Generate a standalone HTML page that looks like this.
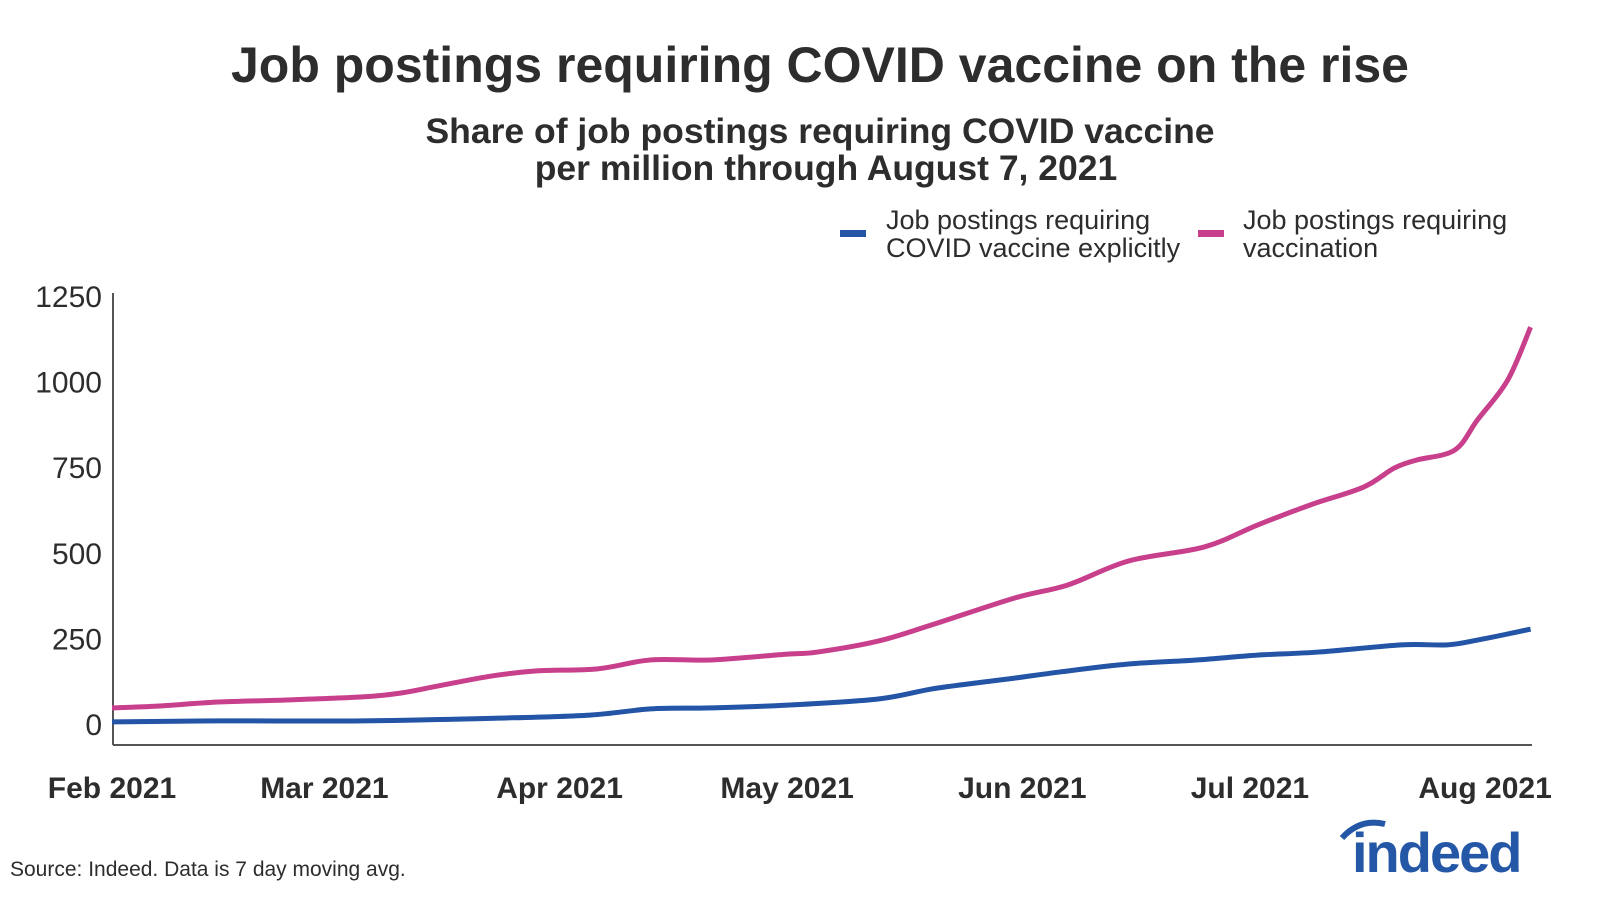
<!DOCTYPE html>
<html><head><meta charset="utf-8"><style>
body{margin:0;background:#fff;}
svg{display:block;font-family:"Liberation Sans","DejaVu Sans",sans-serif;}
</style></head><body>
<svg id="chart" width="1600" height="909" viewBox="0 0 1600 909">
<text x="820" y="82" text-anchor="middle" font-size="50" font-weight="bold" fill="#2d2d2d">Job postings requiring COVID vaccine on the rise</text>
<text x="820" y="143" text-anchor="middle" font-size="35.5" font-weight="bold" fill="#2d2d2d">Share of job postings requiring COVID vaccine</text>
<text x="826" y="180" text-anchor="middle" font-size="35.5" font-weight="bold" fill="#2d2d2d">per million through August 7, 2021</text>
<g>
<rect x="840" y="230" width="26" height="7" fill="#2354a5"/>
<text x="886" y="229" font-size="27" fill="#2d2d2d">Job postings requiring</text>
<text x="886" y="257" font-size="27" fill="#2d2d2d">COVID vaccine explicitly</text>
</g>
<g>
<rect x="1198" y="230" width="26" height="7" fill="#c83f8c"/>
<text x="1243" y="229" font-size="27" fill="#2d2d2d">Job postings requiring</text>
<text x="1243" y="257" font-size="27" fill="#2d2d2d">vaccination</text>
</g>
<g id="yticks"></g><g id="xticks"></g>
<line x1="113" y1="293" x2="113" y2="745" stroke="#555" stroke-width="2"/>
<line x1="113" y1="745" x2="1532" y2="745" stroke="#555" stroke-width="2"/>
<g id="series"></g>
<text x="10" y="876" font-size="21" fill="#2d2d2d">Source: Indeed. Data is 7 day moving avg.</text>
<g>
<path d="M1342 838 Q1360 818 1385 824" stroke="#2557a7" stroke-width="6" fill="none"/>
<text x="1352" y="872" font-size="56" font-weight="bold" fill="#2557a7" letter-spacing="-2">indeed</text>
</g>
</svg>
<script>
const yTicks=[0,250,500,750,1000,1250];
const xTickLabels=["Feb 2021","Mar 2021","Apr 2021","May 2021","Jun 2021","Jul 2021","Aug 2021"];
const xTickDays=[0,28,59,89,120,150,181];
const pinkDays=[0,6,14,23,33,38,43,50,56,64,71,79,89,93,101,108,119,126,134,144,151,158,165,169,172,177,180,184,187];
const pinkValues=[50,55,67,73,82,93,114,143,158,164,190,190,207,213,245,292,371,409,479,520,584,643,695,750,774,803,891,1008,1162];
const blueDays=[0,14,33,51,63,71,79,89,101,108,114,119,125,134,143,151,159,170,176,180,187];
const blueValues=[9,12,12,20,29,47,50,58,76,105,123,137,155,178,190,204,213,234,234,248,280];
const NS="http://www.w3.org/2000/svg";
const xS=d=>112+d*7.586;
const yS=v=>725-v*0.3424;
const yg=document.getElementById('yticks');
yTicks.forEach(v=>{const t=document.createElementNS(NS,'text');
t.setAttribute('x',102);t.setAttribute('y',yS(v)+10);t.setAttribute('text-anchor','end');
t.setAttribute('font-size','30');t.setAttribute('fill','#2d2d2d');t.textContent=v;


yg.appendChild(t);});
const xg=document.getElementById('xticks');
xTickLabels.forEach((l,i)=>{const t=document.createElementNS(NS,'text');
t.setAttribute('x',xS(xTickDays[i]));t.setAttribute('y',798);t.setAttribute('text-anchor','middle');
t.setAttribute('font-size','30');t.setAttribute('font-weight','bold');t.setAttribute('fill','#2d2d2d');t.textContent=l;


xg.appendChild(t);});
function line(days,vals,color,name){
 const p=days.map((d,i)=>[xS(d),yS(vals[i])]);
 let s='M'+p[0][0]+' '+p[0][1];
 for(let i=0;i<p.length-1;i++){const p0=p[i-1]||p[i],p1=p[i],p2=p[i+1],p3=p[i+2]||p2;
  const c1=[p1[0]+(p2[0]-p0[0])/6,p1[1]+(p2[1]-p0[1])/6],c2=[p2[0]-(p3[0]-p1[0])/6,p2[1]-(p3[1]-p1[1])/6];
  s+=` C${c1[0]} ${c1[1]} ${c2[0]} ${c2[1]} ${p2[0]} ${p2[1]}`;}
 const el=document.createElementNS(NS,'path');
 el.setAttribute('d',s);el.setAttribute('fill','none');el.setAttribute('stroke',color);
 el.setAttribute('stroke-width','5');el.setAttribute('stroke-linejoin','round');
 
 
 document.getElementById('series').appendChild(el);}
line(pinkDays,pinkValues,'#c83f8c','vaccination-line');
line(blueDays,blueValues,'#2354a5','explicit-covid-line');
</script>
</body></html>
